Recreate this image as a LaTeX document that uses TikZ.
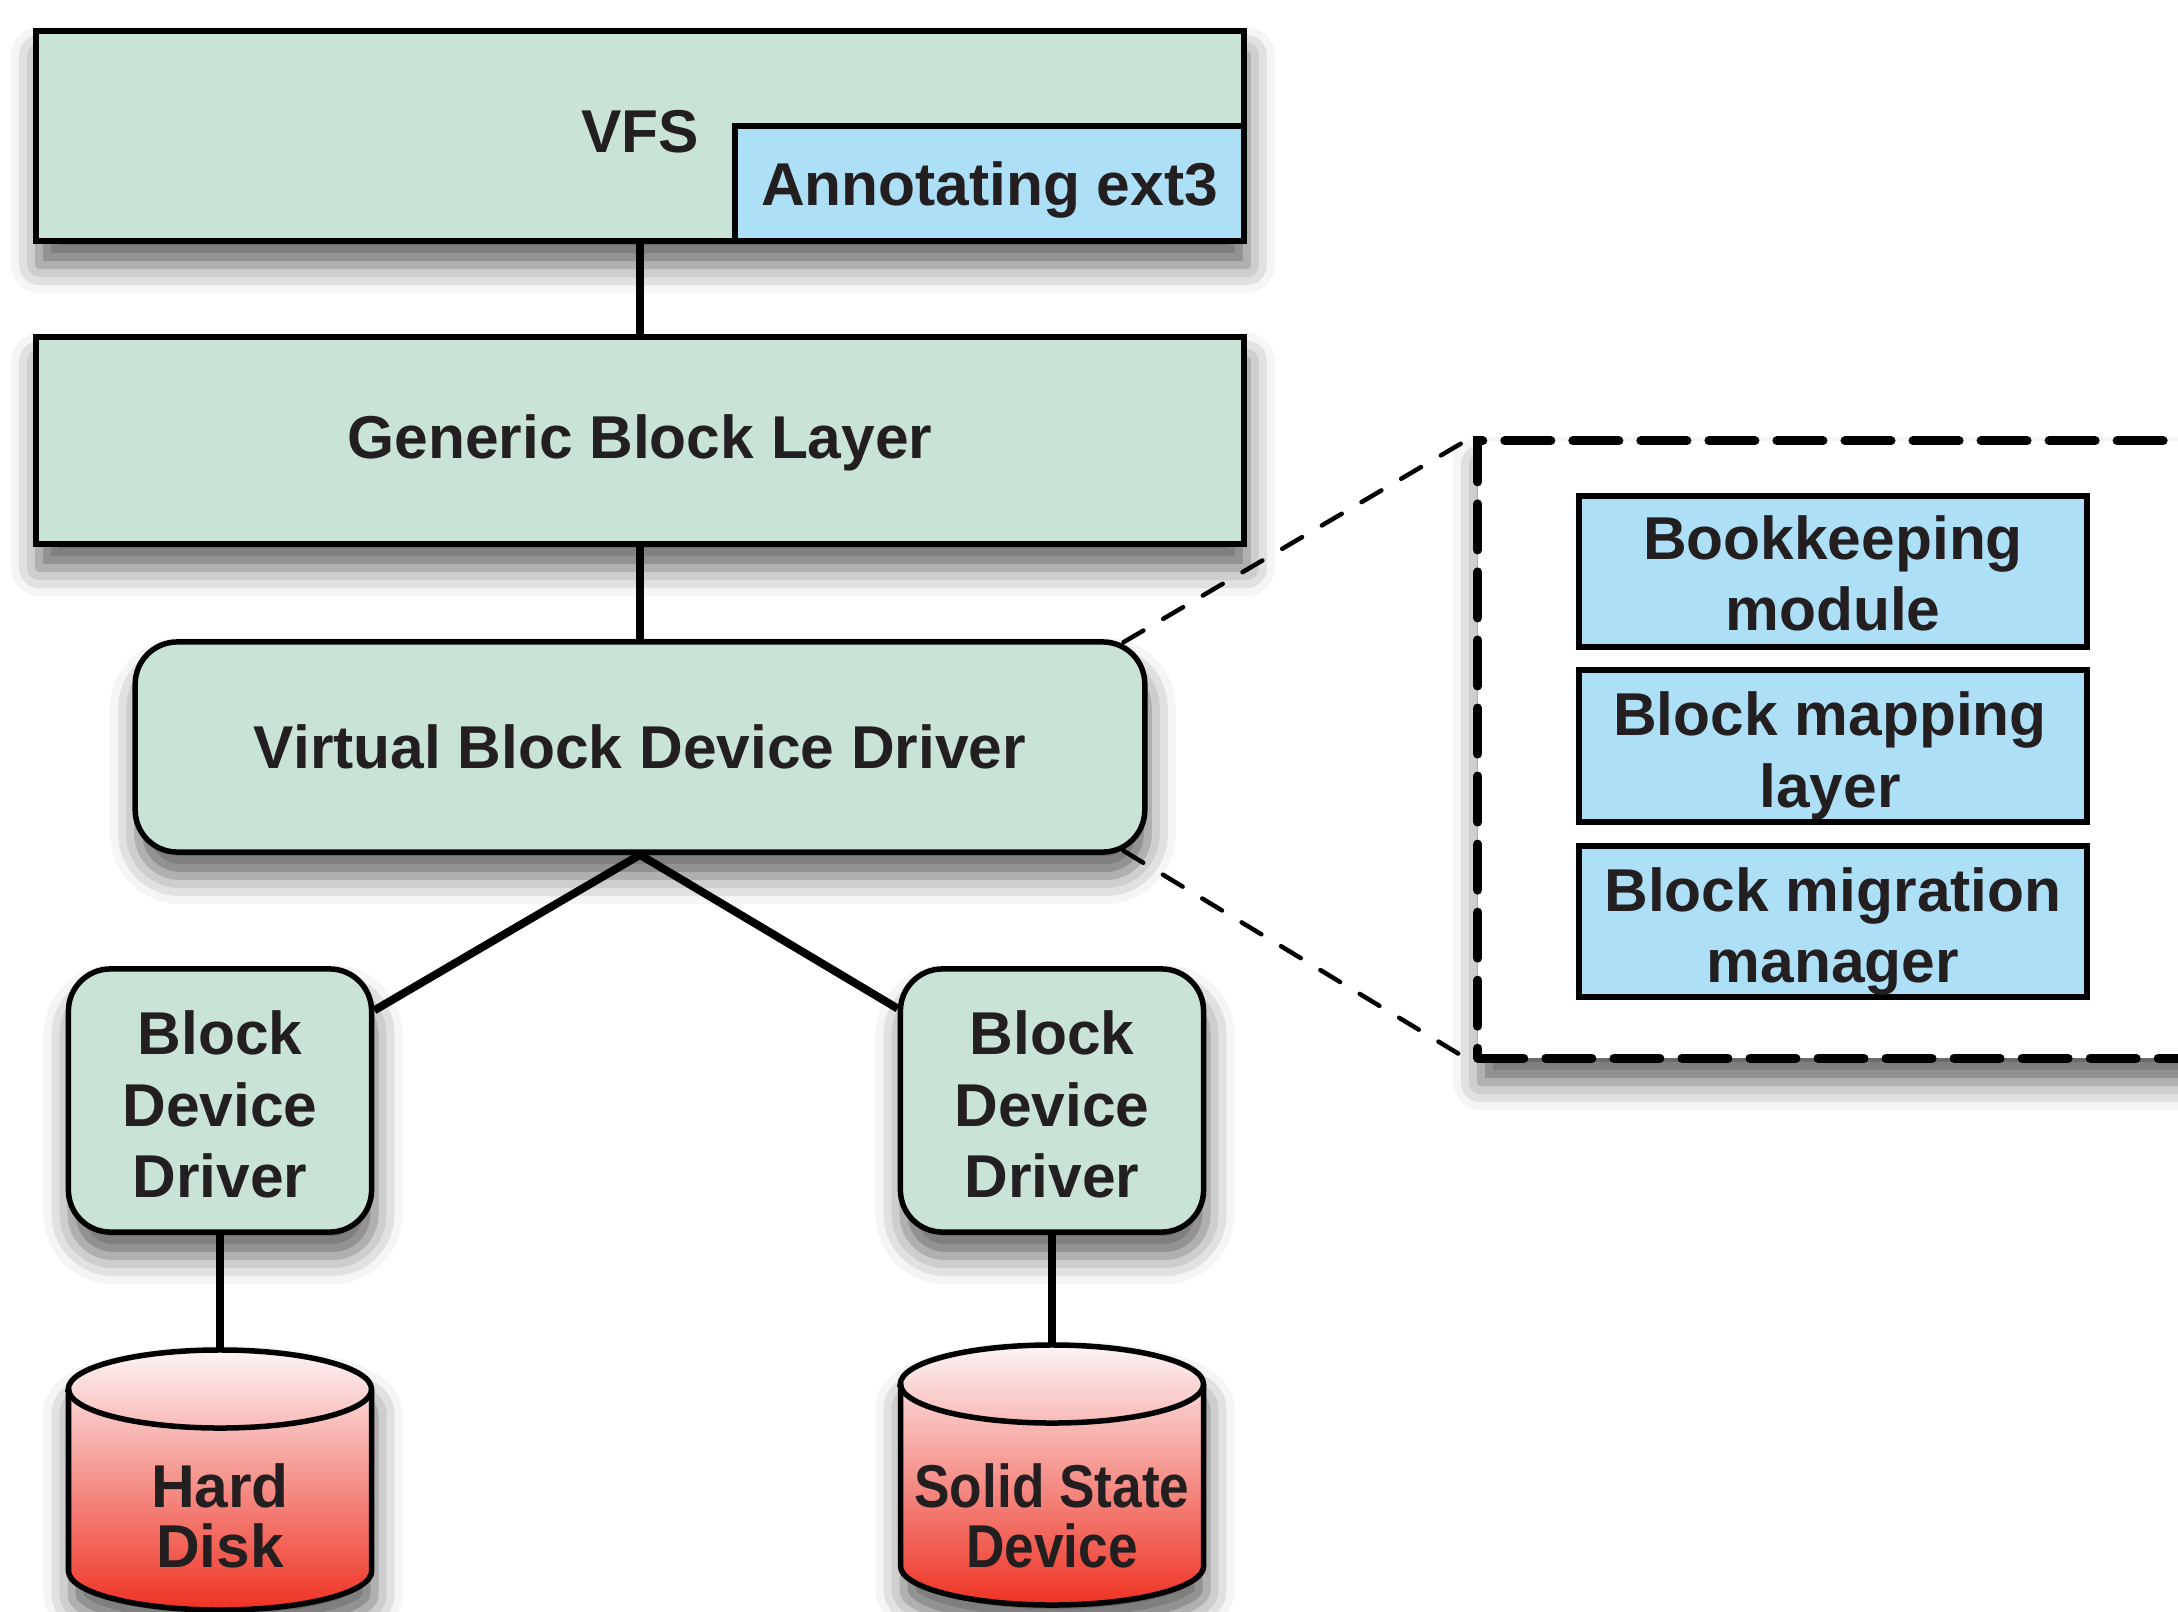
\documentclass[tikz,border=0pt]{standalone}
\usepackage{fontspec}
\setmainfont{Liberation Sans}
\usepackage{graphicx}
\usetikzlibrary{shadows.blur,calc}
\definecolor{boxgreen}{RGB}{201,228,214}
\definecolor{boxblue}{RGB}{173,224,247}
\definecolor{txt}{RGB}{35,31,32}
\definecolor{cyltop}{RGB}{253,244,246}
\definecolor{cylbot}{RGB}{238,50,35}
\newcommand\drawcyl[3]{%
  \path[border,top color=cyltop,bottom color=cylbot,shad]
    (#1-151.5,#2) -- (#1-151.5,#3)
    arc[start angle=180,end angle=360,x radius=1.515cm,y radius=0.39cm]
    -- (#1+151.5,#2)
    arc[start angle=0,end angle=180,x radius=1.515cm,y radius=0.39cm] -- cycle;
  \draw[border] (#1-151.5,#2)
    arc[start angle=180,end angle=360,x radius=1.515cm,y radius=0.39cm];
}
\begin{document}
\begin{tikzpicture}[x=0.01cm,y=-0.01cm,
  font=\fontsize{17.2}{20.4}\selectfont\bfseries, text=txt,
  border/.style={draw=black,line width=0.055cm},
  shad/.style={blur shadow={shadow xshift=0.03cm,shadow yshift=-0.24cm,shadow blur radius=0.28cm,shadow opacity=62}},
  layer/.style={border,fill=boxgreen,shad,inner sep=0pt},
  rlayer/.style={layer,rounded corners=0.42cm},
  bluebox/.style={border,fill=boxblue,inner sep=0pt},
  lbl/.style={inner sep=0pt,align=center},
  conn/.style={line width=0.08cm,draw=black},
  zoomline/.style={line width=0.045cm,dash pattern=on 0.23cm off 0.23cm,line cap=round},
  zoombox/.style={draw=black,line width=0.09cm,dash pattern=on 0.46cm off 0.22cm,line cap=round,fill=white,shad},
  cyltext/.style={font=\fontsize{17.2}{16.9}\selectfont\bfseries,align=center,inner sep=0pt}
]
\useasboundingbox (0,0) rectangle (2178,1612);

% layers
\node[layer,minimum width=12.07cm,minimum height=2.10cm] (vfs) at (640,136) {};
\node[lbl] (vfst) at (640,132) {VFS};
\node[bluebox,minimum width=5.09cm,minimum height=1.15cm] (annot) at (989.5,183.5) {};
\node[lbl] (annott) at (989.5,190) {Annotating ext3};
\node[layer,minimum width=12.07cm,minimum height=2.07cm] (gbl) at (640,440.5) {};
\node[lbl] (gblt) at (640,443) {Generic Block Layer};
\node[rlayer,minimum width=10.09cm,minimum height=2.10cm] (vbdd) at (640,747) {};
\node[lbl] (vbddt) at (640,747) {Virtual Block Device Driver};
\node[rlayer,minimum width=3.03cm,minimum height=2.63cm] (bdd1) at (220,1100.5) {};
\node[lbl] (bdd1t) at (220,1104.5) {Block\\Device\\Driver};
\node[rlayer,minimum width=3.03cm,minimum height=2.63cm] (bdd2) at (1052,1100.5) {};
\node[lbl] (bdd2t) at (1052,1104.5) {Block\\Device\\Driver};

% cylinders
\drawcyl{220}{1389}{1571}
\drawcyl{1052}{1384}{1566}
\coordinate (hdtop) at (220,1350);
\coordinate (ssdtop) at (1052,1345);
\node[cyltext] (hd) at (220,1516) {Hard\\Disk};
\node[cyltext] (ssd) at (1052,1516) {\scalebox{0.88}[1]{Solid State}\\\scalebox{0.88}[1]{Device}};

% zoom box
\node[zoombox,minimum width=7.82cm,minimum height=6.17cm] (dbox) at (1869,749.5) {};
\node[bluebox,minimum width=5.08cm,minimum height=1.51cm] (book) at (1833,571.5) {};
\node[lbl] (bookt) at (1833,573.5) {Bookkeeping\\module};
\node[bluebox,minimum width=5.08cm,minimum height=1.52cm] (bmap) at (1833,746) {};
\node[lbl] (bmapt) at (1830,756) {Block mapping\\layer};
\node[bluebox,minimum width=5.08cm,minimum height=1.51cm] (bmig) at (1833,921.5) {};
\node[lbl] (bmigt) at (1833,931.5) {Block migration\\manager};

% connectors
\draw[conn] (vfs.south) -- (gbl.north);
\draw[conn] (gbl.south) -- (vbdd.north);
\draw[conn] (vbdd.south) -- (bdd1);
\draw[conn] (vbdd.south) -- (bdd2);
\draw[conn] (bdd1.south) -- (hdtop);
\draw[conn] (bdd2.south) -- (ssdtop);

\coordinate (vur) at ($(vbdd.north east)+(-24,3)$);
\coordinate (vlr) at ($(vbdd.south east)+(-24,-4)$);
\draw[zoomline] (vur) -- (dbox.north west);
\draw[zoomline] (vlr) -- (dbox.south west);
\end{tikzpicture}
\end{document}
